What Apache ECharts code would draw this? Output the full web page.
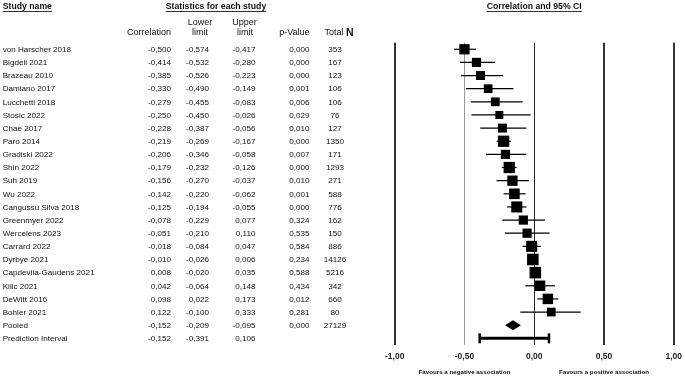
<!DOCTYPE html>
<html><head><meta charset="utf-8">
<script src="https://cdn.jsdelivr.net/npm/echarts@6/dist/echarts.min.js"></script>
<style>html,body{margin:0;padding:0;background:#fff}#c{width:685px;height:376px}</style>
</head><body><div id="c"></div><script>
// ---------------- data ----------------
const studies = ["von Harscher 2018","Bigdeli 2021","Brazeau 2010","Damiano 2017","Lucchetti 2018","Stosic 2022","Chae 2017","Paro 2014","Gradiski 2022","Shin 2022","Suh 2019","Wu 2022","Cangussu Silva 2018","Greenmyer 2022","Wercelens 2023","Carrard 2022","Dyrbye 2021","Capdevila-Gaudens 2021","Kilic 2021","DeWitt 2016","Bohler 2021","Pooled","Prediction Interval"];
const correlation = [-0.500,-0.414,-0.385,-0.330,-0.279,-0.250,-0.228,-0.219,-0.206,-0.179,-0.156,-0.142,-0.125,-0.078,-0.051,-0.018,-0.010,0.008,0.042,0.098,0.122,-0.152,-0.152];
const lowerLimit = [-0.574,-0.532,-0.526,-0.490,-0.455,-0.450,-0.387,-0.269,-0.346,-0.232,-0.270,-0.220,-0.194,-0.229,-0.210,-0.084,-0.026,-0.020,-0.064,0.022,-0.100,-0.209,-0.391];
const upperLimit = [-0.417,-0.280,-0.223,-0.149,-0.083,-0.026,-0.056,-0.167,-0.058,-0.126,-0.037,-0.062,-0.055,0.077,0.110,0.047,0.006,0.035,0.148,0.173,0.333,-0.095,0.106];
const pValue = [0.000,0.000,0.000,0.001,0.006,0.029,0.010,0.000,0.007,0.000,0.010,0.001,0.000,0.324,0.535,0.584,0.234,0.588,0.434,0.012,0.281,0.000,null];
const totalN = [353,167,123,106,106,76,127,1350,171,1293,271,588,776,162,150,886,14126,5216,342,660,80,27129,null];
// estimated relative weights (%) of the individual studies, read from the square sizes
const weights = [5.0,4.0,3.8,3.6,3.6,3.0,3.8,6.0,4.0,6.0,5.0,5.3,5.8,4.0,4.0,5.8,6.3,6.3,5.2,5.2,3.6];
const xTicks = [-1, -0.5, 0, 0.5, 1];
const pooledRow = 21, predictionRow = 22, nStudies = 21;

// ---------------- helpers ----------------
const FONT = '"Liberation Sans", Arial, sans-serif';
const fmt3 = v => v == null ? '' : v.toFixed(3).replace('.', ',');
const fmt2 = v => v.toFixed(2).replace('.', ',');
const ctx = document.createElement('canvas').getContext('2d');
function textW(t, size, weight) { ctx.font = (weight||'normal') + ' ' + size + 'px ' + FONT; return ctx.measureText(t).width; }

const rows = studies.map((_, i) => i);
const gridTop = 42.7, gridBottom = 31.1;

// table columns (anchor x in table-grid units = pixels)
const tableCols = [
  { values: studies, x: 2.7, align: 'left', fmt: v => v },
  { values: correlation, x: 171, align: 'right', fmt: fmt3 },
  { values: lowerLimit, x: 209, align: 'right', fmt: fmt3 },
  { values: upperLimit, x: 255.5, align: 'right', fmt: fmt3 },
  { values: pValue, x: 309.5, align: 'right', fmt: fmt3 },
  { values: totalN, x: 335, align: 'center', fmt: v => v == null ? '' : String(v) }
];

const tableSeries = tableCols.map(col => ({
  type: 'custom', xAxisIndex: 1, yAxisIndex: 1, silent: true,
  data: col.values.map((v, i) => [col.x, i]),
  encode: { x: 0, y: 1 },
  renderItem: (params, api) => {
    const p = api.coord([api.value(0), api.value(1)]);
    return { type: 'text', x: p[0], y: p[1] + 0.5,
      style: { text: col.fmt(col.values[params.dataIndex]),
        fill: '#111', fontSize: 8.1, fontFamily: FONT, align: col.align, verticalAlign: 'middle' } };
  }
}));

const refLineStyles = [
  { color: '#333', width: 2 },
  { color: '#999', width: 1 },
  { color: '#222', width: 1 },
  { color: '#333', width: 2 },
  { color: '#333', width: 2 }
];

const ciData = rows.slice(0, nStudies).map(i => [lowerLimit[i], upperLimit[i], i]);
const sqData = rows.slice(0, nStudies).map(i => [correlation[i], i]);

const option = {
  animation: false,
  grid: [
    { left: 394.7, right: 9, top: gridTop, bottom: gridBottom },
    { left: 0, width: 394, top: gridTop, bottom: gridBottom }
  ],
  xAxis: [
    { type: 'value', gridIndex: 0, min: -1, max: 1, interval: 0.5,
      axisLine: { show: false }, axisTick: { show: false }, splitLine: { show: false },
      axisLabel: { formatter: fmt2, fontSize: 8.5, fontWeight: 'bold', fontFamily: FONT, color: '#1a1a1a', margin: 7 } },
    { type: 'value', gridIndex: 1, min: 0, max: 394, show: false }
  ],
  yAxis: [
    { type: 'category', gridIndex: 0, data: studies, inverse: true, show: false },
    { type: 'category', gridIndex: 1, data: studies, inverse: true, show: false }
  ],
  series: [
    { type: 'custom', xAxisIndex: 0, yAxisIndex: 0, silent: true, z: 2,
      data: ciData, encode: { x: [0, 1], y: 2 },
      renderItem: (params, api) => {
        const a = api.coord([api.value(0), api.value(2)]);
        const b = api.coord([api.value(1), api.value(2)]);
        return { type: 'line', shape: { x1: a[0], y1: a[1], x2: b[0], y2: b[1] }, style: { stroke: '#000', lineWidth: 1.2 } };
      }
    },
    { type: 'scatter', xAxisIndex: 0, yAxisIndex: 0, silent: true, z: 3,
      symbol: 'rect', data: sqData,
      symbolSize: (v, p) => 4.6 * Math.sqrt(weights[p.dataIndex]),
      itemStyle: { color: '#000', opacity: 1 },
      markLine: { silent: true, symbol: 'none', label: { show: false }, z: 1, animation: false,
        data: xTicks.map((t, k) => ({ xAxis: t, lineStyle: Object.assign({ type: 'solid' }, refLineStyles[k]) })) }
    },
    { type: 'custom', xAxisIndex: 0, yAxisIndex: 0, silent: true, z: 3,
      data: [[correlation[pooledRow], lowerLimit[pooledRow], upperLimit[pooledRow], pooledRow]],
      encode: { x: [0, 1, 2], y: 3 },
      renderItem: (params, api) => {
        const c = api.coord([api.value(0), api.value(3)]);
        const l = api.coord([api.value(1), api.value(3)]);
        const r = api.coord([api.value(2), api.value(3)]);
        const h = 5;
        return { type: 'polygon', shape: { points: [[l[0], c[1]], [c[0], c[1] - h], [r[0], c[1]], [c[0], c[1] + h]] }, style: { fill: '#000' } };
      }
    },
    { type: 'custom', xAxisIndex: 0, yAxisIndex: 0, silent: true, z: 3,
      data: [[lowerLimit[predictionRow], upperLimit[predictionRow], predictionRow]],
      encode: { x: [0, 1], y: 2 },
      renderItem: (params, api) => {
        const a = api.coord([api.value(0), api.value(2)]);
        const b = api.coord([api.value(1), api.value(2)]);
        const h = 5;
        return { type: 'group', children: [
          { type: 'line', shape: { x1: a[0], y1: a[1], x2: b[0], y2: b[1] }, style: { stroke: '#000', lineWidth: 3 } },
          { type: 'line', shape: { x1: a[0], y1: a[1] - h, x2: a[0], y2: a[1] + h }, style: { stroke: '#000', lineWidth: 2.5 } },
          { type: 'line', shape: { x1: b[0], y1: b[1] - h, x2: b[0], y2: b[1] + h }, style: { stroke: '#000', lineWidth: 2.5 } }
        ] };
      }
    }
  ].concat(tableSeries)
};

const chart = echarts.init(document.getElementById('c'), null, { renderer: 'canvas' });
chart.setOption(option);

// ---------------- headers ----------------
const headerText = (text, x, y, align, bold, size) => ({
  type: 'text', x: x, y: y, silent: true,
  style: { text: text, fill: '#111', fontSize: size, fontWeight: bold ? 'bold' : 'normal', fontFamily: FONT, align: align, verticalAlign: 'middle' }
});
const underline = (text, x, y, align, size) => {
  const w = textW(text, size, 'bold');
  const x0 = align === 'left' ? x : align === 'center' ? x - w / 2 : x - w;
  return { type: 'line', silent: true, shape: { x1: x0, y1: y, x2: x0 + w, y2: y }, style: { stroke: '#333', lineWidth: 1 } };
};
const xm = v => chart.convertToPixel({ xAxisIndex: 0 }, v);
const titles = [
  ['Study name', 2.7, 'left'],
  ['Statistics for each study', 216, 'center'],
  ['Correlation and 95% CI', xm(0), 'center']
];
const graphics = [];
titles.forEach(t => { graphics.push(headerText(t[0], t[1], 6.5, t[2], true, 8.7)); graphics.push(underline(t[0], t[1], 11.5, t[2], 8.7)); });
graphics.push(headerText('Lower', 200, 22.5, 'center', false, 9));
graphics.push(headerText('limit', 200, 33, 'center', false, 9));
graphics.push(headerText('Upper', 244.5, 22.5, 'center', false, 9));
graphics.push(headerText('limit', 245, 33, 'center', false, 9));
graphics.push(headerText('Correlation', 171, 33, 'right', false, 9));
graphics.push(headerText('p-Value', 309.5, 33, 'right', false, 9));
graphics.push({ type: 'text', x: 339, y: 33, silent: true,
  style: { text: '{a|Total }{b|N}', align: 'center', verticalAlign: 'middle',
    rich: { a: { fontSize: 9, fontFamily: FONT, fill: '#111' }, b: { fontSize: 10.5, fontWeight: 'bold', fontFamily: FONT, fill: '#111' } } } });
graphics.push(headerText('Favours a negative association', xm(-0.5), 372, 'center', true, 6.2));
graphics.push(headerText('Favours a positive association', xm(0.5), 372, 'center', true, 6.2));
chart.setOption({ graphic: graphics });
</script></body></html>
